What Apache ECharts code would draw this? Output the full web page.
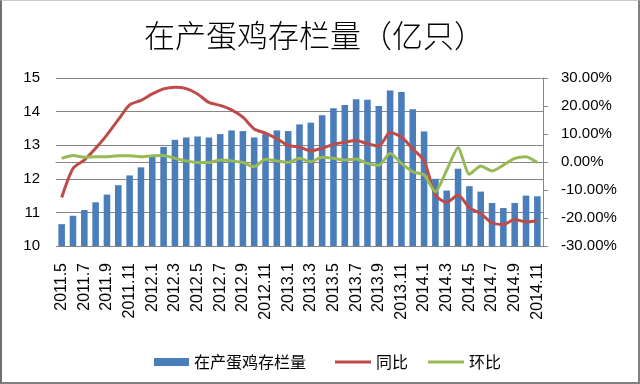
<!DOCTYPE html>
<html>
<head>
<meta charset="utf-8">
<script src="https://cdn.jsdelivr.net/npm/echarts@6/dist/echarts.min.js"></script>
<style>
html,body{margin:0;padding:0;background:#fff;}
#wrap{position:relative;width:640px;height:384px;}
#chart{position:absolute;left:0;top:0;width:640px;height:384px;}
#frame{position:absolute;left:0;top:0;width:640px;height:384px;box-sizing:border-box;
 border-top:1px solid #c8c8c8;border-left:2px solid #707070;border-right:2px solid #808080;border-bottom:2px solid #808080;pointer-events:none;}
</style>
</head>
<body>
<div id="wrap"><div id="chart"></div><div id="frame"></div></div>
<script>
const categories = ['2011.5','2011.6','2011.7','2011.8','2011.9','2011.10','2011.11','2011.12',
 '2012.1','2012.2','2012.3','2012.4','2012.5','2012.6','2012.7','2012.8','2012.9','2012.10','2012.11','2012.12',
 '2013.1','2013.2','2013.3','2013.4','2013.5','2013.6','2013.7','2013.8','2013.9','2013.10','2013.11','2013.12',
 '2014.1','2014.2','2014.3','2014.4','2014.5','2014.6','2014.7','2014.8','2014.9','2014.10','2014.11'];
const stock = [10.65,10.9,11.07,11.3,11.53,11.81,12.1,12.34,
 12.65,12.95,13.16,13.23,13.26,13.23,13.33,13.44,13.42,13.23,13.33,13.44,
 13.42,13.62,13.67,13.89,14.1,14.2,14.37,14.35,14.17,14.63,14.58,14.07,
 13.41,12.0,11.65,12.3,11.78,11.62,11.28,11.13,11.28,11.5,11.48];
const yoy = [-12.7,-2.3,0.7,4.9,9.7,15.1,20.4,22.0,
 24.3,26.1,26.7,26.2,24.3,21.3,20.2,18.6,16.0,11.8,10.3,8.3,
 5.9,5.3,4.0,4.9,6.3,7.1,7.7,6.5,5.7,10.5,8.9,4.7,
 0.5,-11.8,-14.4,-11.8,-16.4,-18.4,-21.7,-22.3,-20.5,-21.4,-21.1];
const mom = [1.3,2.3,1.7,1.9,1.9,2.2,2.2,1.9,
 2.2,2.3,1.3,0.4,-0.2,-0.2,0.7,0.4,-0.2,-1.7,1.0,0.4,
 -0.2,1.3,0.1,1.7,1.3,0.7,1.1,-0.5,-1.2,3.1,-0.5,-3.5,
 -4.6,-10.6,-2.9,5.1,-4.4,-1.4,-3.2,-1.1,1.3,1.9,-0.2];
const leftTicks = {min:10, max:15, interval:1};
const rightTicks = {min:-30, max:30, interval:10};

const chart = echarts.init(document.getElementById('chart'), null, {renderer:'canvas'});
const axisFont = {fontFamily:'Liberation Sans', fontSize:15, color:'#000'};
const legendText = {fontFamily:'Noto Sans CJK SC', fontSize:16, color:'#000'};
chart.setOption({
  animation:false,
  title:{text:'在产蛋鸡存栏量（亿只）', left:144, top:20, padding:0,
    textStyle:{fontFamily:'Noto Sans CJK SC', fontSize:31, fontWeight:300, color:'#000'}},
  legend:[
    {left:149, top:349, itemWidth:35, itemHeight:8, textStyle:legendText,
     data:[{name:'在产蛋鸡存栏量', icon:'rect'}]},
    {left:330, top:349, itemGap:20, itemWidth:36, itemHeight:3, textStyle:legendText,
     data:[{name:'同比', icon:'rect'},{name:'环比', icon:'rect'}]}
  ],
  grid:{left:56, right:97, top:78, bottom:138, containLabel:false},
  xAxis:{type:'category', data:categories,
    axisLine:{show:true, lineStyle:{color:'#868686', width:1}},
    axisTick:{show:false},
    axisLabel:Object.assign({interval:1, rotate:90, margin:17}, axisFont, {fontSize:16})},
  yAxis:[
    {type:'value', min:leftTicks.min, max:leftTicks.max, interval:leftTicks.interval,
     axisLine:{show:false}, axisTick:{show:false},
     splitLine:{lineStyle:{color:'#868686', width:1}},
     axisLabel:Object.assign({margin:16}, axisFont)},
    {type:'value', min:rightTicks.min, max:rightTicks.max, interval:rightTicks.interval,
     axisLine:{show:true, lineStyle:{color:'#868686', width:1}},
     axisTick:{show:true, length:5, lineStyle:{color:'#868686'}},
     splitLine:{show:false},
     axisLabel:Object.assign({margin:18, formatter:v=>v.toFixed(2)+'%'}, axisFont)}
  ],
  series:[
    {name:'在产蛋鸡存栏量', type:'bar', data:stock, barWidth:'58%', yAxisIndex:0,
     itemStyle:{color:'#4a7ebb'}},
    {name:'同比', type:'line', data:yoy, yAxisIndex:1, symbol:'none', smooth:0.25,
     lineStyle:{color:'#be4b48', width:3}, itemStyle:{color:'#be4b48'}},
    {name:'环比', type:'line', data:mom, yAxisIndex:1, symbol:'none', smooth:0.2,
     lineStyle:{color:'#98b954', width:3}, itemStyle:{color:'#98b954'}}
  ]
});
</script>
</body>
</html>
